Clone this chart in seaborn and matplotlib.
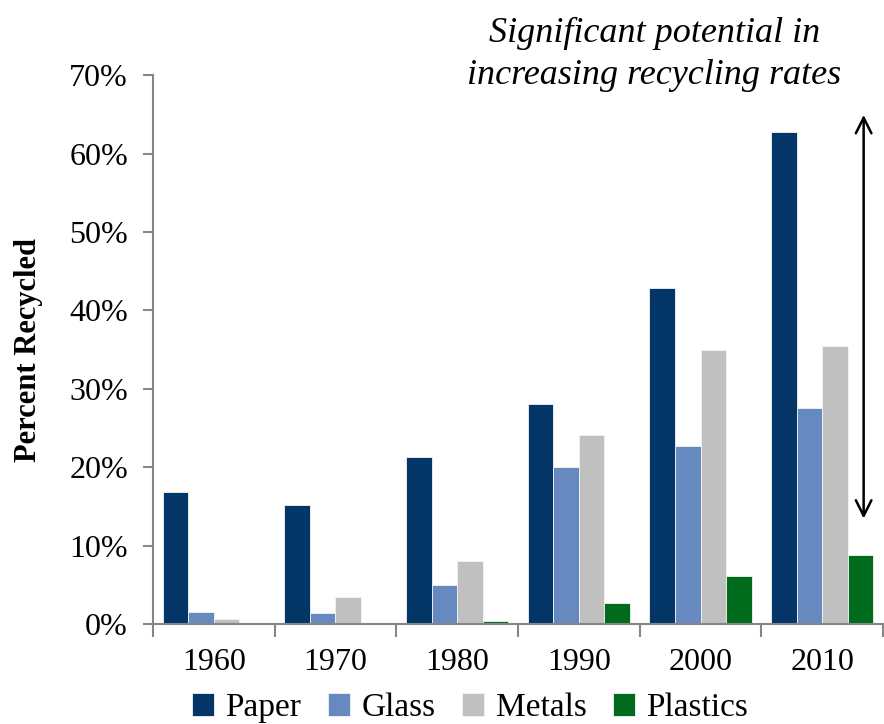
import pandas as pd
import matplotlib.pyplot as plt
import seaborn as sns
from matplotlib.ticker import FixedLocator, FuncFormatter

# Data (percent recycled)
years = ['1960', '1970', '1980', '1990', '2000', '2010']
materials = ['Paper', 'Glass', 'Metals', 'Plastics']
paper = [16.9, 15.2, 21.3, 28.1, 42.9, 62.8]
glass = [1.5, 1.4, 5.0, 20.1, 22.7, 27.5]
metals = [0.7, 3.4, 8.0, 24.1, 35.0, 35.5]
plastics = [0.0, 0.0, 0.4, 2.7, 6.1, 8.8]
colors = ['#033566', '#6689C0', '#C0C0C0', '#006B1D']

# Long format for seaborn
df = pd.DataFrame({'Year': years * 4,
                   'Material': sum([[m] * len(years) for m in materials], []),
                   'Value': paper + glass + metals + plastics})

sns.set_style('white')
plt.rcParams['font.family'] = ['Liberation Serif', 'DejaVu Serif']
plt.rcParams['text.color'] = 'black'
plt.rcParams['axes.labelcolor'] = 'black'

fig = plt.figure(figsize=(8.84, 7.24), dpi=100)
ax = fig.add_axes([0.173, 0.138, 0.826, 0.758])

sns.barplot(data=df, x='Year', y='Value', hue='Material', palette=colors,
            saturation=1, width=0.84, gap=0, edgecolor='#f4f4f4',
            linewidth=0.6, ax=ax)

ax.set_ylim(0, 70)
ax.set_xlim(-0.5, 5.5)
ax.set_yticks(range(0, 71, 10))
ax.yaxis.set_major_formatter(FuncFormatter(lambda v, p: f'{v:.0f}%'))
ax.tick_params(axis='y', direction='out', length=7, width=1.5, color='#868686',
               labelcolor='black', labelsize=23, pad=11, left=True)
ax.tick_params(axis='x', which='major', length=0, labelsize=23, pad=17,
               labelcolor='black')
ax.xaxis.set_minor_locator(FixedLocator([i - 0.5 for i in range(7)]))
ax.tick_params(axis='x', which='minor', direction='out', length=9, width=1.5,
               color='#868686', bottom=True)

for s in ['top', 'right']:
    ax.spines[s].set_visible(False)
for s in ['left', 'bottom']:
    ax.spines[s].set_color('#868686')
    ax.spines[s].set_linewidth(1.5)

ax.set_xlabel('')
ax.set_ylabel('Percent Recycled', fontsize=22, fontweight='bold', labelpad=19)

# Legend along the bottom
handles, labels = ax.get_legend_handles_labels()
ax.get_legend().remove()
fig.legend(handles, labels, loc='center', bbox_to_anchor=(0.532, 0.022),
           ncol=4, frameon=False, fontsize=24, handlelength=0.65,
           handleheight=0.65, handletextpad=0.35, columnspacing=0.8,
           borderpad=0)

# Annotation: arrow and note
ax.annotate('', xy=(5.34, 65.3), xytext=(5.34, 13.1),
            arrowprops=dict(arrowstyle='<->', color='black', lw=1.8,
                            mutation_scale=28))
fig.text(0.74, 0.925, 'Significant potential in\nincreasing recycling rates',
         ha='center', va='center', fontsize=26, style='italic',
         linespacing=1.35)

plt.savefig('out.png', dpi=100)
